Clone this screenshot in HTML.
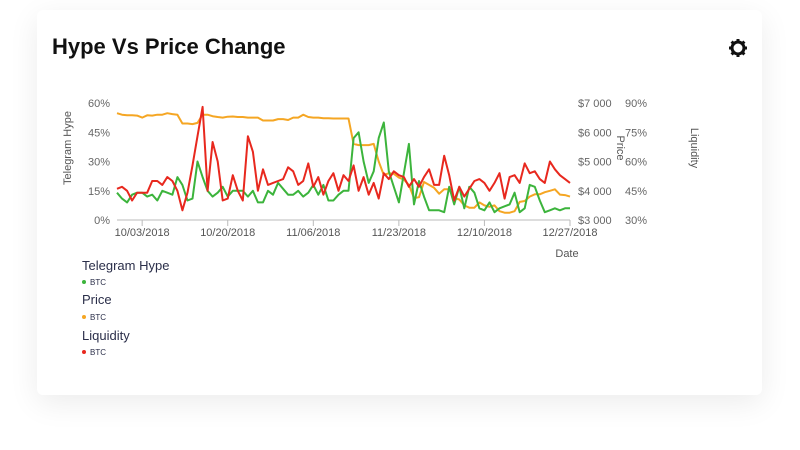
<!DOCTYPE html>
<html><head><meta charset="utf-8">
<style>
body{margin:0;width:800px;height:450px;background:#fff;font-family:"Liberation Sans",sans-serif;overflow:hidden;position:relative}
.card{position:absolute;left:37px;top:10px;width:725px;height:385px;background:#fff;border-radius:6px;box-shadow:0 8px 30px rgba(0,0,0,0.08)}
.title{position:absolute;left:52px;top:34px;font-size:22px;font-weight:bold;color:#111}
svg text{font-family:"Liberation Sans",sans-serif}
</style></head><body>
<div class="card"></div>
<div class="title">Hype Vs Price Change</div>
<svg width="800" height="450" style="position:absolute;left:0;top:0">
<g transform="translate(738,48)">
<circle r="6" fill="none" stroke="#111" stroke-width="3"/>
<g stroke="#111" stroke-width="3">
<line x1="0" y1="-9" x2="0" y2="-6"/><line x1="0" y1="6" x2="0" y2="9"/><line x1="-9" y1="0" x2="-6" y2="0"/><line x1="6" y1="0" x2="9" y2="0"/>
<line x1="-6.4" y1="-6.4" x2="-4.2" y2="-4.2"/><line x1="4.2" y1="4.2" x2="6.4" y2="6.4"/><line x1="-6.4" y1="6.4" x2="-4.2" y2="4.2"/><line x1="4.2" y1="-4.2" x2="6.4" y2="-6.4"/></g>
<circle r="2.5" fill="#fff"/>
</g>
<g id="chart"></g>
<g font-size="13" fill="#2b2f4a">
<text x="82" y="270">Telegram Hype</text>
<circle cx="84" cy="282" r="2" fill="#3cb43c"/><text x="90" y="285" font-size="8">BTC</text>
<text x="82" y="304">Price</text>
<circle cx="84" cy="317" r="2" fill="#f5a623"/><text x="90" y="320" font-size="8">BTC</text>
<text x="82" y="340">Liquidity</text>
<circle cx="84" cy="352" r="2" fill="#e8281e"/><text x="90" y="355" font-size="8">BTC</text>
</g>
</svg>
<script>
const hypeTicks=["0%","15%","30%","45%","60%"];
const priceTicks=["$3 000","$4 000","$5 000","$6 000","$7 000"];
const liqTicks=["30%","45%","60%","75%","90%"];
const dateTicks=["10/03/2018","10/20/2018","11/06/2018","11/23/2018","12/10/2018","12/27/2018"];
const dateTickIdx=[5,22,39,56,73,90];
const hype=[14,11,9,13,14,14,12,13,10,15,14,13,22,18,10,11,30,22,15,12,14,17,12,15,15,15,12,15,9,9,15,13,19,16,13,13,15,12,14,18,13,18,10,10,13,15,15,42,45,30,19,25,42,50,25,17,9,24,39,8,20,12,5,5,5,4,17,8,17,6,17,14,6,5,9,4,6,7,8,14,4,6,18,17,10,4,5,6,5,6,6];
const price=[6650,6600,6580,6580,6570,6500,6580,6570,6600,6600,6650,6620,6600,6300,6300,6280,6320,6600,6600,6550,6520,6500,6530,6540,6520,6520,6500,6500,6500,6400,6400,6400,6450,6450,6420,6500,6500,6600,6520,6500,6500,6480,6480,6470,6470,6470,6470,5600,5560,5560,5560,5600,5000,4540,4600,4580,4450,4380,4200,3750,3780,4300,4200,4100,3900,4050,4050,3750,3700,3500,3420,3420,3600,3500,3450,3500,3300,3250,3250,3300,3620,3650,3800,3880,3880,3950,4000,4050,3870,3850,3800];
const liquidity=[46,47,45,40,44,44,44,50,50,48,52,50,45,35,44,58,73,88,45,70,60,40,41,53,45,40,73,65,45,56,48,49,50,51,57,55,48,50,59,47,52,43,50,54,45,53,50,58,45,52,43,49,41,54,51,55,53,52,47,51,47,52,56,48,48,63,53,40,47,42,46,50,51,49,45,49,54,41,52,53,49,59,54,55,51,49,60,56,53,51,49];
const X0=117,X1=570,Y0=220,Y1=103;
const n=hype.length;
const xs=i=>X0+(X1-X0)*i/(n-1);
const yH=v=>Y0-(Y0-Y1)*v/60;
const yP=v=>Y0-(Y0-Y1)*(v-3000)/4000;
const yL=v=>Y0-(Y0-Y1)*(v-30)/60;
const NS="http://www.w3.org/2000/svg";
const g=document.getElementById('chart');
function mk(tag,attrs,txt){const e=document.createElementNS(NS,tag);for(const k in attrs)e.setAttribute(k,attrs[k]);if(txt!==undefined)e.textContent=txt;g.appendChild(e);return e;}
hypeTicks.forEach((t,i)=>{const y=Y0-(Y0-Y1)*i/4;
 const a=mk('text',{x:110,y:y+4,'text-anchor':'end','font-size':11,fill:'#666'},t);
 
 
 const b=mk('text',{x:578,y:y+4,'font-size':11,fill:'#666'},priceTicks[i]);
 
 
 const c=mk('text',{x:625,y:y+4,'font-size':11,fill:'#666'},liqTicks[i]);
 
 
});
const ax=mk('line',{x1:X0,y1:Y0,x2:X1,y2:Y0,stroke:'#bbb','stroke-width':1});


dateTicks.forEach((t,i)=>{const x=xs(dateTickIdx[i]);
 mk('line',{x1:x,y1:Y0,x2:x,y2:Y0+6,stroke:'#bbb'});
 const e=mk('text',{x:x,y:Y0+16,'text-anchor':'middle','font-size':11,fill:'#555'},t);
 
 
});
const t1=mk('text',{x:0,y:0,transform:'translate(71,148) rotate(-90)','text-anchor':'middle','font-size':11,fill:'#555'},'Telegram Hype');


const t2=mk('text',{x:0,y:0,transform:'translate(617,148) rotate(90)','text-anchor':'middle','font-size':11,fill:'#555'},'Price');


const t3=mk('text',{x:0,y:0,transform:'translate(691,148) rotate(90)','text-anchor':'middle','font-size':11,fill:'#555'},'Liquidity');


const t4=mk('text',{x:567,y:257,'text-anchor':'middle','font-size':11,fill:'#555'},'Date');


function line(arr,fy,col,name){const d=arr.map((v,i)=>(i?'L':'M')+xs(i).toFixed(1)+','+fy(v).toFixed(1)).join('');
 const p=mk('path',{d:d,fill:'none',stroke:col,'stroke-width':2,'stroke-linejoin':'round'});
 
 }
line(price,yP,'#f5a623','price-line');
line(hype,yH,'#3cb43c','hype-line');
line(liquidity,yL,'#e8281e','liquidity-line');
</script>
</body></html>
